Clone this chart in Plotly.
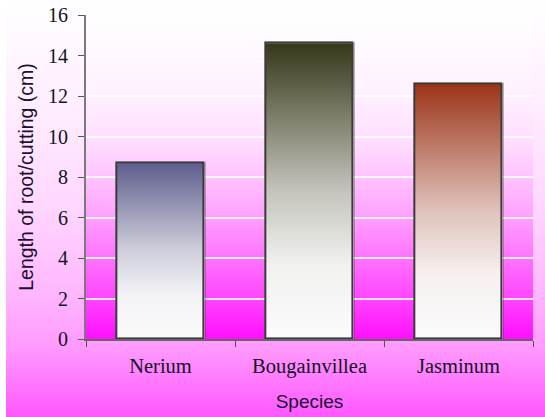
import base64
import struct
import zlib

import plotly.graph_objects as go

# Data
species = ["Nerium", "Bougainvillea", "Jasminum"]
root_length_cm = [8.7, 14.6, 12.6]
bar_top_colors = ["#5e5e8e", "#37371a", "#9b3418"]
y_ticks = [0, 2, 4, 6, 8, 10, 12, 14, 16]

BAR_WIDTH = 0.59


def hex_rgb(h):
    h = h.lstrip("#")
    return tuple(int(h[i:i + 2], 16) for i in (0, 2, 4))


def gradient_png(stops, height=256):
    """1-pixel-wide vertical gradient PNG (top -> bottom) as a data URI."""
    raw = b""
    for i in range(height):
        t = i / (height - 1)
        for (t0, c0), (t1, c1) in zip(stops[:-1], stops[1:]):
            if t0 <= t <= t1:
                f = 0 if t1 == t0 else (t - t0) / (t1 - t0)
                a, b = hex_rgb(c0), hex_rgb(c1)
                px = bytes(round(a[k] + (b[k] - a[k]) * f) for k in range(3))
                break
        raw += b"\x00" + px

    def chunk(tag, data):
        body = tag + data
        return struct.pack(">I", len(data)) + body + struct.pack(">I", zlib.crc32(body) & 0xFFFFFFFF)

    png = b"\x89PNG\r\n\x1a\n"
    png += chunk(b"IHDR", struct.pack(">IIBBBBB", 1, height, 8, 2, 0, 0, 0))
    png += chunk(b"IDAT", zlib.compress(raw, 9))
    png += chunk(b"IEND", b"")
    return "data:image/png;base64," + base64.b64encode(png).decode()


def blend(c, w, f):
    a, b = hex_rgb(c), hex_rgb(w)
    return "#%02x%02x%02x" % tuple(round(b[k] + (a[k] - b[k]) * f) for k in range(3))


def bar_scale(top):
    white = "#fbfbfb"
    return [
        [0.0, white],
        [0.25, blend(top, white, 0.05)],
        [0.5, blend(top, white, 0.28)],
        [0.75, blend(top, white, 0.64)],
        [1.0, top],
    ]


fig = go.Figure()

# Gradient-filled bar bodies on a hidden numeric axis
for i, (name, v, col) in enumerate(zip(species, root_length_cm, bar_top_colors)):
    x0, x1 = i - BAR_WIDTH / 2, i + BAR_WIDTH / 2
    fig.add_trace(go.Scatter(
        x=[x0, x1, x1, x0, x0], y=[0, 0, v, v, 0],
        mode="none", fill="toself",
        fillgradient=dict(type="vertical", colorscale=bar_scale(col)),
        xaxis="x", yaxis="y", showlegend=False, hoverinfo="skip",
    ))

# Soft drop shadow and outline of each bar on the categorical axis
fig.add_trace(go.Bar(
    x=species, y=root_length_cm, width=BAR_WIDTH, offset=-BAR_WIDTH / 2 + 0.006,
    marker=dict(color="rgba(0,0,0,0)", line=dict(color="rgba(60,60,60,0.35)", width=2.5)),
    xaxis="x2", yaxis="y", showlegend=False, hoverinfo="skip",
))
fig.add_trace(go.Bar(
    x=species, y=root_length_cm, width=BAR_WIDTH,
    marker=dict(color="rgba(0,0,0,0)", line=dict(color="#3a3a3a", width=1.6)),
    xaxis="x2", yaxis="y", showlegend=False,
))

outer_bg = gradient_png([
    (0.0, "#ffffff"), (0.3, "#ffeaff"), (0.5, "#ffd6ff"),
    (0.7, "#ffb8ff"), (0.84, "#ff98ff"), (1.0, "#ff58ff"),
])
plot_bg = gradient_png([
    (0.0, "#ffffff"), (0.25, "#fff0ff"), (0.38, "#ffe0ff"), (0.5, "#ffc4ff"),
    (0.625, "#ffa0ff"), (0.75, "#ff74ff"), (0.875, "#ff46ff"), (1.0, "#ff10ff"),
])

L, R, T, B = 86, 12, 15, 78
W, H = 545, 417
pw, ph = W - L - R, H - T - B
fig.update_layout(
    width=W, height=H,
    margin=dict(l=L, r=R, t=T, b=B, pad=0),
    paper_bgcolor="#ffffff",
    plot_bgcolor="rgba(0,0,0,0)",
    barmode="overlay",
    images=[
        dict(source=outer_bg, xref="paper", yref="paper",
             x=(6 - L) / pw, y=(H - B) / ph, sizex=(W - 6) / pw, sizey=H / ph,
             xanchor="left", yanchor="top", sizing="stretch", layer="below"),
        dict(source=plot_bg, xref="paper", yref="paper",
             x=0, y=1, sizex=1, sizey=1,
             xanchor="left", yanchor="top", sizing="stretch", layer="below"),
    ],
    xaxis=dict(visible=False, range=[-0.5, 2.5], fixedrange=True, automargin=False),
    xaxis2=dict(
        type="category", overlaying="x", side="bottom", anchor="y",
        categoryorder="array", categoryarray=species, automargin=False,
        range=[-0.5, 2.5], tickson="boundaries",
        ticks="outside", ticklen=6, tickwidth=1.3, tickcolor="#555555",
        showline=True, linecolor="#666666", linewidth=1.6,
        showgrid=False, zeroline=False, ticklabelstandoff=8,
        tickfont=dict(family="Liberation Serif", size=20.5, color="#141424"),
        title=dict(text="Species", standoff=17,
                   font=dict(family="Liberation Sans", size=19, color="#1a1030")),
    ),
    yaxis=dict(
        range=[0, 16], tickvals=y_ticks, automargin=False,
        ticks="outside", ticklen=6, tickwidth=1.3, tickcolor="#555555",
        showline=True, linecolor="#7a7a7a", linewidth=1.8,
        showgrid=True, gridcolor="rgba(255,255,255,0.85)", gridwidth=1.5,
        zeroline=False, ticklabelstandoff=6,
        tickfont=dict(family="Liberation Serif", size=20, color="#141424"),
        title=dict(text="Length of root/cutting (cm)", standoff=9,
                   font=dict(family="Liberation Sans", size=19.5, color="#1a1030")),
    ),
    bargap=0,
)

fig.write_html("out.html")
